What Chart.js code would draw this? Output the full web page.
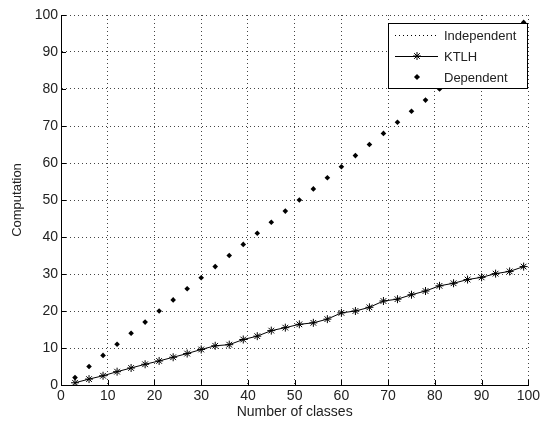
<!DOCTYPE html>
<html>
<head>
<meta charset="utf-8">
<script src="https://cdn.jsdelivr.net/npm/chart.js@4/dist/chart.umd.min.js"></script>
<style>
  body { margin: 0; background: #fff; }
  canvas { display: block; }
</style>
</head>
<body>
<canvas id="chart" width="543" height="426"></canvas>
<script>
// number of classes on the x axis
const classes = [3, 6, 9, 12, 15, 18, 21, 24, 27, 30, 33, 36, 39, 42, 45, 48, 51,
  54, 57, 60, 63, 66, 69, 72, 75, 78, 81, 84, 87, 90, 93, 96, 99];
// KTLH computation (line with asterisks)
const ktlh = [0.6, 1.6, 2.5, 3.6, 4.6, 5.6, 6.5, 7.5, 8.5, 9.6, 10.6, 10.9, 12.3,
  13.2, 14.7, 15.5, 16.4, 16.8, 17.8, 19.5, 20.0, 21.0, 22.7, 23.2, 24.4, 25.4,
  26.8, 27.5, 28.5, 29.1, 30.1, 30.7, 32.0];
// Dependent computation (dots)
const dependent = [2, 5, 8, 11, 14, 17, 20, 23, 26, 29, 32, 35, 38, 41, 44, 47, 50,
  53, 56, 59, 62, 65, 68, 71, 74, 77, 80, 83, 86, 89, 92, 95, 98];
// Independent: nothing of it shows inside the plotted range
const independent = [];

const xTicks = [0, 10, 20, 30, 40, 50, 60, 70, 80, 90, 100];
const yTicks = [0, 10, 20, 30, 40, 50, 60, 70, 80, 90, 100];

const toPoints = (xs, ys) => ys.map((y, i) => ({ x: xs[i], y: y }));

const FONT = 'Liberation Sans, Arial, sans-serif';
const INK = '#222';

// MATLAB style tick marks pointing into the plot
const innerTicks = {
  id: 'innerTicks',
  beforeDatasetsDraw(chart) {
    const { ctx, chartArea, scales } = chart;
    ctx.save();
    ctx.strokeStyle = '#000';
    ctx.lineWidth = 1;
    ctx.beginPath();
    xTicks.forEach(v => {
      const px = Math.round(scales.x.getPixelForValue(v)) + 0.5;
      ctx.moveTo(px, chartArea.bottom);
      ctx.lineTo(px, chartArea.bottom - 5);
    });
    yTicks.forEach(v => {
      const py = Math.round(scales.y.getPixelForValue(v)) + 0.5;
      ctx.moveTo(chartArea.left, py);
      ctx.lineTo(chartArea.left + 5, py);
    });
    ctx.stroke();
    ctx.restore();
  }
};

// legend box in the upper right corner
const boxLegend = {
  id: 'boxLegend',
  afterDraw(chart) {
    const ctx = chart.ctx;
    const left = 388, top = 23, w = 139, h = 65;
    ctx.save();
    ctx.fillStyle = '#fff';
    ctx.fillRect(left, top, w, h);
    ctx.strokeStyle = '#000';
    ctx.lineWidth = 1;
    ctx.strokeRect(left + 0.5, top + 0.5, w, h);

    const rows = [
      { label: 'Independent', y: 35, dash: [1, 3], line: true, marker: null },
      { label: 'KTLH', y: 56, dash: [], line: true, marker: 'star' },
      { label: 'Dependent', y: 77, dash: [], line: false, marker: 'dot' }
    ];
    rows.forEach(r => {
      if (r.line) {
        ctx.beginPath();
        ctx.setLineDash(r.dash);
        ctx.moveTo(395, r.y + 0.5);
        ctx.lineTo(438, r.y + 0.5);
        ctx.stroke();
        ctx.setLineDash([]);
      }
      if (r.marker === 'star') {
        Chart.helpers.drawPoint(ctx, { pointStyle: 'star', radius: 4, borderWidth: 1 }, 417, r.y);
      } else if (r.marker === 'dot') {
        ctx.fillStyle = '#000';
        Chart.helpers.drawPoint(ctx, { pointStyle: 'rectRot', radius: 2.8, borderWidth: 0 }, 417, r.y);
        ctx.fill();
      }
      ctx.fillStyle = INK;
      ctx.font = '13px ' + FONT;
      ctx.textBaseline = 'middle';
      ctx.textAlign = 'left';
      ctx.fillText(r.label, 444, r.y + 1);
    });
    ctx.restore();
  }
};

new Chart(document.getElementById('chart'), {
  type: 'scatter',
  data: {
    datasets: [
      {
        label: 'Independent',
        data: toPoints(classes, independent),
        showLine: true,
        borderColor: '#000',
        borderWidth: 1,
        borderDash: [1, 3],
        pointRadius: 0
      },
      {
        label: 'KTLH',
        data: toPoints(classes, ktlh),
        showLine: true,
        borderColor: '#000',
        borderWidth: 1,
        pointStyle: 'star',
        pointRadius: 4,
        pointBorderColor: '#000',
        pointBorderWidth: 1
      },
      {
        label: 'Dependent',
        data: toPoints(classes, dependent),
        showLine: false,
        pointStyle: 'rectRot',
        pointRadius: 2.8,
        pointBackgroundColor: '#000',
        pointBorderColor: '#000',
        pointBorderWidth: 0
      }
    ]
  },
  options: {
    responsive: false,
    animation: false,
    devicePixelRatio: 1,
    layout: { padding: { top: 15, right: 12, left: 0, bottom: 0 } },
    plugins: {
      legend: { display: false },
      tooltip: { enabled: false }
    },
    scales: {
      x: {
        type: 'linear',
        min: 0,
        max: 100,
        afterBuildTicks: s => { s.ticks = xTicks.map(v => ({ value: v })); },
        afterFit: s => { s.height = 41; },
        grid: { color: '#444', lineWidth: 1, drawTicks: false },
        // in Chart.js 4 the grid line dash lives under border.dash
        border: { display: true, color: '#000', width: 1, dash: [1, 3] },
        ticks: { color: INK, font: { family: FONT, size: 14 }, padding: 3, maxRotation: 0 },
        title: {
          display: true,
          text: 'Number of classes',
          color: INK,
          font: { family: FONT, size: 14 },
          padding: { top: 0, bottom: 5 }
        }
      },
      y: {
        type: 'linear',
        min: 0,
        max: 100,
        afterBuildTicks: s => { s.ticks = yTicks.map(v => ({ value: v })); },
        afterFit: s => { s.width = 61; },
        grid: { color: '#444', lineWidth: 1, drawTicks: false },
        border: { display: true, color: '#000', width: 1, dash: [1, 3] },
        ticks: { color: INK, font: { family: FONT, size: 14 }, padding: 3 },
        title: {
          display: true,
          text: 'Computation',
          color: INK,
          font: { family: FONT, size: 13 },
          padding: { top: 10, bottom: 0 }
        }
      }
    }
  },
  plugins: [innerTicks, boxLegend]
});
</script>
</body>
</html>
